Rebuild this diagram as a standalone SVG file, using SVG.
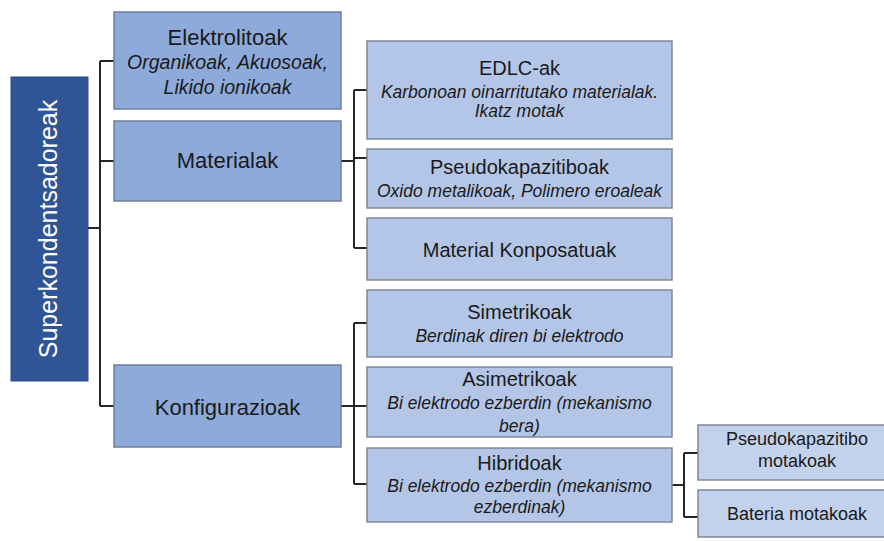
<svg xmlns="http://www.w3.org/2000/svg" width="884" height="541" viewBox="0 0 884 541">
<style>
.bg{fill:#ffffff}
.root{fill:#2F5597;stroke:#2A4C88;stroke-width:1}
.l1{fill:#8EAADB;stroke:#6F7F99;stroke-width:1.5}
.l2{fill:#B4C6E7;stroke:#7F8797;stroke-width:1.5}
.l3{fill:#C3D2EC;stroke:#7F8797;stroke-width:1.5}
.conn{fill:none;stroke:#262626;stroke-width:2}
text{font-family:"Liberation Sans",Arial,sans-serif;fill:#1a1a1a;text-anchor:middle}
.t1{font-size:22px}
.s1{font-size:19.5px;font-style:italic}
.t2{font-size:20px}
.s2{font-size:17.5px;font-style:italic}
.t3{font-size:18px}
.rt{font-size:25px;fill:#ffffff}
</style>
<rect class="bg" x="0" y="0" width="884" height="541"/>
<g id="connectors">
<path class="conn" d="M88,228 H100 M100,61 V406 M100,61 H114 M100,161 H114 M100,406 H114"/>
<path class="conn" d="M341,161 H354 M354,90 V248 M354,90 H367 M354,158 H367 M354,248 H367"/>
<path class="conn" d="M341,406 H354 M354,323 V484 M354,323 H367 M354,406 H367 M354,484 H367"/>
<path class="conn" d="M672,485 H684 M684,453 V517 M684,453 H698 M684,517 H698"/>
</g>
<g id="root">
<rect class="root" x="11" y="77" width="77" height="304"/>
<text class="rt" transform="translate(57,229) rotate(-90)" x="0" y="0">Superkondentsadoreak</text>
</g>
<g id="elektrolitoak">
<rect class="l1" x="114" y="12" width="227" height="97"/>
<text class="t1" x="227.5" y="45">Elektrolitoak</text>
<text class="s1" x="227.5" y="69">Organikoak, Akuosoak,</text>
<text class="s1" x="227.5" y="94">Likido ionikoak</text>
</g>
<g id="materialak">
<rect class="l1" x="114" y="121" width="227" height="80"/>
<text class="t1" x="227.5" y="168">Materialak</text>
</g>
<g id="konfigurazioak">
<rect class="l1" x="114" y="365" width="227" height="82"/>
<text class="t1" x="227.5" y="415">Konfigurazioak</text>
</g>
<g id="edlc">
<rect class="l2" x="367" y="41" width="305" height="98"/>
<text class="t2" x="519.5" y="75">EDLC-ak</text>
<text class="s2" x="519.5" y="98">Karbonoan oinarritutako materialak.</text>
<text class="s2" x="519.5" y="117">Ikatz motak</text>
</g>
<g id="pseudokapazitiboak">
<rect class="l2" x="367" y="149" width="305" height="59"/>
<text class="t2" x="519.5" y="174">Pseudokapazitiboak</text>
<text class="s2" x="519.5" y="197">Oxido metalikoak, Polimero eroaleak</text>
</g>
<g id="konposatuak">
<rect class="l2" x="367" y="218" width="305" height="62"/>
<text class="t2" x="519.5" y="257">Material Konposatuak</text>
</g>
<g id="simetrikoak">
<rect class="l2" x="367" y="290" width="305" height="67"/>
<text class="t2" x="519.5" y="319">Simetrikoak</text>
<text class="s2" x="519.5" y="342">Berdinak diren bi elektrodo</text>
</g>
<g id="asimetrikoak">
<rect class="l2" x="367" y="367" width="305" height="70"/>
<text class="t2" x="519.5" y="386">Asimetrikoak</text>
<text class="s2" x="519.5" y="409">Bi elektrodo ezberdin (mekanismo</text>
<text class="s2" x="519.5" y="432">bera)</text>
</g>
<g id="hibridoak">
<rect class="l2" x="367" y="448" width="305" height="74"/>
<text class="t2" x="519.5" y="470">Hibridoak</text>
<text class="s2" x="519.5" y="492">Bi elektrodo ezberdin (mekanismo</text>
<text class="s2" x="519.5" y="513">ezberdinak)</text>
</g>
<g id="pseudo-motak">
<rect class="l3" x="698" y="425" width="200" height="55"/>
<text class="t3" x="797" y="445">Pseudokapazitibo</text>
<text class="t3" x="797" y="467">motakoak</text>
</g>
<g id="bateria">
<rect class="l3" x="698" y="490" width="200" height="47"/>
<text class="t3" x="797" y="520">Bateria motakoak</text>
</g>
</svg>
